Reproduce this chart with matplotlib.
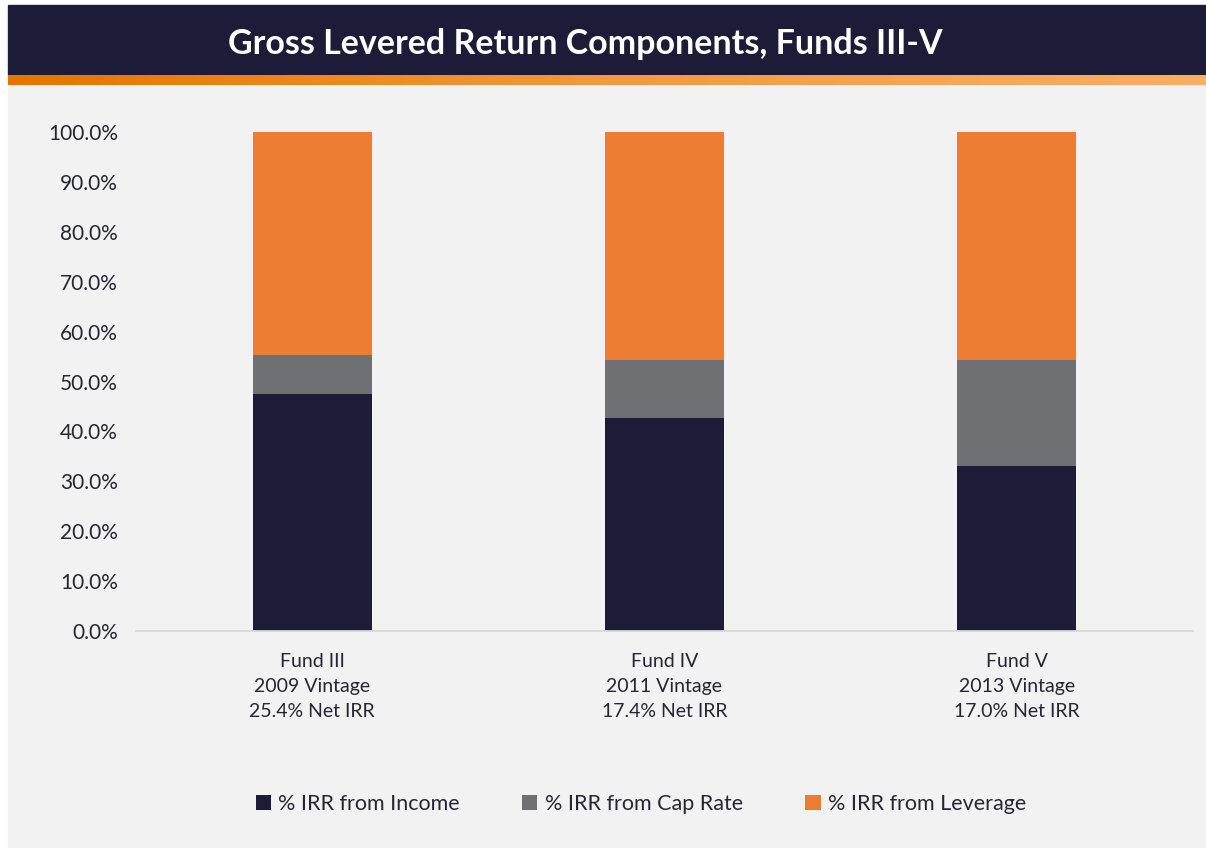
import matplotlib
matplotlib.use("Agg")
import matplotlib.pyplot as plt
import matplotlib.patches as mpatches
from matplotlib.colors import LinearSegmentedColormap
import numpy as np

categories = ["Fund III\n2009 Vintage\n25.4% Net IRR",
              "Fund IV\n2011 Vintage\n17.4% Net IRR",
              "Fund V\n2013 Vintage\n17.0% Net IRR"]
income = [47.5, 42.6, 33.1]
cap_rate = [7.9, 11.8, 21.3]
leverage = [44.6, 45.6, 45.6]
series_names = ["% IRR from Income", "% IRR from Cap Rate", "% IRR from Leverage"]
yticks = [0, 10, 20, 30, 40, 50, 60, 70, 80, 90, 100]

NAVY = "#1C1C38"
GRAY = "#6F7074"
ORANGE = "#ED7D31"
BG = "#F2F2F2"
TXT = "#262636"

plt.rcParams['font.family'] = ['Lato', 'DejaVu Sans']

W, H = 1206, 848
fig = plt.figure(figsize=(W / 100, H / 100), dpi=100)
fig.patch.set_facecolor("white")

# background panel
fig.patches.append(mpatches.Rectangle((8 / W, 0), 1 - 8 / W, (H - 85) / H,
                                      transform=fig.transFigure, color=BG, zorder=-5))
# title bar
fig.patches.append(mpatches.Rectangle((8 / W, (H - 75) / H), 1 - 8 / W, 70 / H,
                                      transform=fig.transFigure, color=NAVY, zorder=-5))
# orange gradient strip
gax = fig.add_axes([8 / W, (H - 85) / H, 1 - 8 / W, 10 / H])
cmap = LinearSegmentedColormap.from_list("g", ["#E97300", "#F39A3A", "#FBAF62"])
gax.imshow(np.linspace(0, 1, 256)[None, :], aspect="auto", cmap=cmap)
gax.axis("off")

fig.text(585 / W, 1 - 44 / H, "Gross Levered Return Components, Funds III-V",
         ha="center", va="center", color="white", fontsize=24.5, fontweight="bold")

ax = fig.add_axes([136 / W, (H - 631) / H, 1057 / W, 499 / H])
ax.set_zorder(2)
ax.patch.set_visible(False)
x = np.arange(len(categories))
bw = 0.338
b1 = ax.bar(x, income, bw, color=NAVY, label=series_names[0])
bottom2 = np.array(income)
b2 = ax.bar(x, cap_rate, bw, bottom=bottom2, color=GRAY, label=series_names[1])
bottom3 = bottom2 + np.array(cap_rate)
b3 = ax.bar(x, leverage, bw, bottom=bottom3, color=ORANGE, label=series_names[2])

ax.set_xlim(-0.5, 2.5)
ax.set_ylim(0, 100)
ax.set_yticks(yticks)
ax.set_yticklabels([f"{v:.1f}%" for v in yticks], fontsize=15, color=TXT)
ax.set_xticks(x)
ax.set_xticklabels(categories, fontsize=14, color=TXT, linespacing=1.55)
ax.tick_params(axis="both", length=0)
ax.tick_params(axis="y", pad=13)
ax.tick_params(axis="x", pad=16)
for s in ["top", "right", "left"]:
    ax.spines[s].set_visible(False)
ax.spines["bottom"].set_color("#D9D9D9")
ax.spines["bottom"].set_linewidth(1.3)

leg = fig.legend(handles=[b1, b2, b3], labels=series_names, loc="center",
                 bbox_to_anchor=(641 / W, 1 - 804 / H), ncol=3, frameon=False,
                 fontsize=15.5, handlelength=0.7, handleheight=0.7,
                 handletextpad=0.35, columnspacing=2.9)
for t in leg.get_texts():
    t.set_color(TXT)

fig.savefig("out.png", dpi=100, facecolor=fig.get_facecolor())
